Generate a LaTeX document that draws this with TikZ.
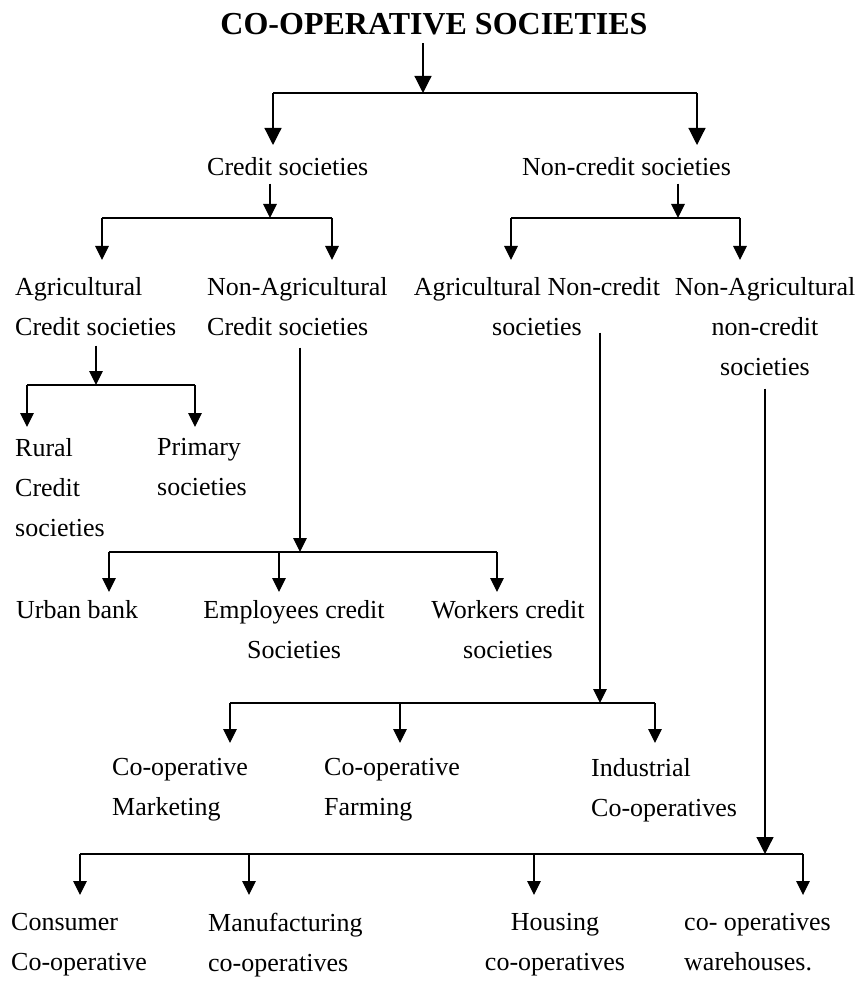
\documentclass[tikz,border=0pt]{standalone}
\usepackage{fontspec}
\setmainfont{Liberation Serif}
\usetikzlibrary{arrows.meta}

\begin{document}
\begin{tikzpicture}[x=1pt,y=-1pt]
  \tikzset{
    every node/.style={
      inner sep=0pt,
      font=\fontsize{26}{40}\selectfont,
    },
    heading/.style={font=\bfseries\fontsize{32}{38}\selectfont},
    wire/.style={line width=1.2pt},
    tip/.style={-{Triangle[length=14pt,width=13.5pt]}},
    bigtip/.style={-{Triangle[length=17pt,width=17pt]}},
    feed/.style={shorten <=#1},
    drop/.style={shorten >=#1},
    label/.style={anchor=north west, align=left},
    clabel/.style={anchor=north, align=center},
  }
  \useasboundingbox (0,0) rectangle (858,981);

  % labels
  \node[heading, anchor=north] (coop) at (434,13) {CO-OPERATIVE SOCIETIES};
  \node[label] (credit) at (207,157) {Credit societies};
  \node[label] (noncredit) at (522,157) {Non-credit societies};
  \node[label] (agri) at (15,277) {Agricultural\\Credit societies};
  \node[label] (nonagri) at (207,277) {Non-Agricultural\\Credit societies};
  \node[clabel] (agrinc) at (537,277) {Agricultural Non-credit\\societies};
  \node[clabel] (nanc) at (765,277) {Non-Agricultural\\non-credit\\societies};
  \node[label] (rural) at (15,438) {Rural\\Credit\\societies};
  \node[label] (primary) at (157,438) {Primary\\societies};
  \node[label] (urban) at (16,600) {Urban bank};
  \node[clabel] (employees) at (294,600) {Employees credit\\Societies};
  \node[clabel] (workers) at (508,600) {Workers credit\\societies};
  \node[label] (marketing) at (112,758) {Co-operative\\Marketing};
  \node[label] (farming) at (324,758) {Co-operative\\Farming};
  \node[label] (industrial) at (591,758) {Industrial\\Co-operatives};
  \node[label] (consumer) at (11,913) {Consumer\\Co-operative};
  \node[label] (manufacturing) at (208,913) {Manufacturing\\co-operatives};
  \node[clabel] (housing) at (555,913) {Housing\\co-operatives};
  \node[label] (warehouses) at (684,913) {co- operatives\\warehouses.};

  % branch points
  \coordinate (b1) at (423,93);
  \coordinate (b1w) at (273,93);
  \coordinate (b1e) at (697,93);
  \coordinate (b2) at (270,218);
  \coordinate (b2w) at (102,218);
  \coordinate (b2e) at (332,218);
  \coordinate (b3) at (678,218);
  \coordinate (b3w) at (511,218);
  \coordinate (b3e) at (740,218);
  \coordinate (b4) at (96,385);
  \coordinate (b4w) at (27,385);
  \coordinate (b4e) at (195,385);
  \coordinate (b5) at (300,552);
  \coordinate (b5w) at (109,552);
  \coordinate (b5m) at (279,552);
  \coordinate (b5e) at (497,552);
  \coordinate (b6) at (600,703);
  \coordinate (b6w) at (230,703);
  \coordinate (b6m) at (400,703);
  \coordinate (b6e) at (655,703);
  \coordinate (b7) at (765,854);
  \coordinate (b7w) at (80,854);
  \coordinate (b7a) at (249,854);
  \coordinate (b7b) at (534,854);
  \coordinate (b7e) at (803,854);

  % connectors
  \draw[wire]
    (coop.south -| b1) edge[bigtip, feed=8pt] (b1)
    (b1w) -- (b1e)
    (b1w) edge[bigtip, drop=12pt] (b1w |- credit.north)
    (b1e) edge[bigtip, drop=12pt] (b1e |- noncredit.north);
  \draw[wire]
    (credit.south -| b2) edge[tip, feed=8pt] (b2)
    (b2w) -- (b2e)
    (b2w) edge[tip, drop=17pt] (b2w |- agri.north)
    (b2e) edge[tip, drop=17pt] (b2e |- nonagri.north);
  \draw[wire]
    (noncredit.south -| b3) edge[tip, feed=8pt] (b3)
    (b3w) -- (b3e)
    (b3w) edge[tip, drop=17pt] (b3w |- agrinc.north)
    (b3e) edge[tip, drop=17pt] (b3e |- nanc.north);
  \draw[wire]
    (agri.south -| b4) edge[tip, feed=10pt] (b4)
    (b4w) -- (b4e)
    (b4w) edge[tip, drop=11pt] (b4w |- rural.north)
    (b4e) edge[tip, drop=11pt] (b4e |- primary.north);
  \draw[wire]
    (nonagri.south -| b5) edge[tip, feed=12pt] (b5)
    (b5w) -- (b5e)
    (b5w) edge[tip, drop=8pt] (b5w |- urban.north)
    (b5m) edge[tip, drop=8pt] (b5m |- employees.north)
    (b5e) edge[tip, drop=8pt] (b5e |- workers.north);
  \draw[wire]
    (agrinc.south -| b6) edge[tip, feed=-3pt] (b6)
    (b6w) -- (b6e)
    (b6w) edge[tip, drop=15pt] (b6w |- marketing.north)
    (b6m) edge[tip, drop=15pt] (b6m |- farming.north)
    (b6e) edge[tip, drop=15pt] (b6e |- industrial.north);
  \draw[wire]
    (nanc.south -| b7) edge[bigtip, feed=13pt] (b7)
    (b7w) -- (b7e)
    (b7w) edge[tip, drop=18pt] (b7w |- consumer.north)
    (b7a) edge[tip, drop=18pt] (b7a |- manufacturing.north)
    (b7b) edge[tip, drop=18pt] (b7b |- housing.north)
    (b7e) edge[tip, drop=18pt] (b7e |- warehouses.north);
\end{tikzpicture}
\end{document}
